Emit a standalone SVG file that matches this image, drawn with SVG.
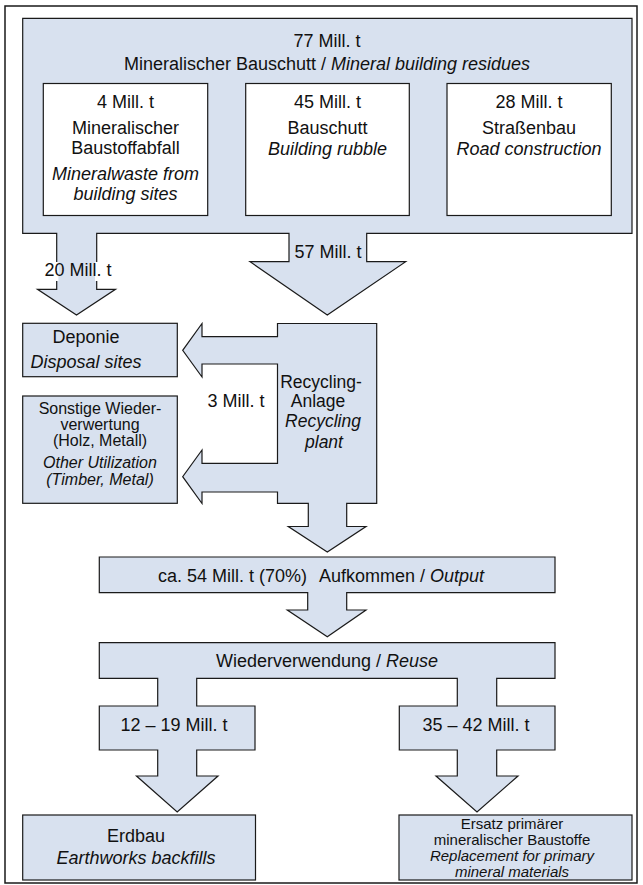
<svg xmlns="http://www.w3.org/2000/svg" width="643" height="885" viewBox="0 0 643 885">
<style>
  .shape { fill: #d8e1ef; stroke: #1a1a1a; stroke-width: 1.2; stroke-linejoin: miter; }
  .white { fill: #ffffff; stroke: #1a1a1a; stroke-width: 1.2; }
  text { font-family: "Liberation Sans", Arial, sans-serif; font-size: 18px; fill: #111; text-anchor: middle; }
  .md { font-size: 17.5px; }
  .sm { font-size: 16px; }
  .xs { font-size: 15px; }
  .it { font-style: italic; }
</style>
<rect id="frame" x="5" y="6" width="632" height="877" fill="#ffffff" stroke="#1a1a1a" stroke-width="1.5"/>

<g id="n-total">
  <path class="shape" d="M22.7,18.3 H632 V233.3 H366.7 V261.7 H405.7 L327.3,315 L250,261.7 H289 V233.3 H96.7 V289.3 H115.5 L76.5,315 L37.5,289.3 H56.7 V233.3 H22.7 Z"/>
  <text x="327" y="47">77 Mill. t</text>
  <text x="327" y="70">Mineralischer Bauschutt / <tspan class="it">Mineral building residues</tspan></text>
</g>
<g id="n-mineralwaste">
  <rect class="white" x="43.3" y="83.5" width="164.4" height="132"/>
  <text x="125.5" y="108">4 Mill. t</text>
  <text x="125.5" y="134">Mineralischer</text>
  <text x="125.5" y="154">Baustoffabfall</text>
  <text class="it" x="125.5" y="180">Mineralwaste from</text>
  <text class="it" x="125.5" y="200">building sites</text>
</g>
<g id="n-rubble">
  <rect class="white" x="245.7" y="83.5" width="163.6" height="132"/>
  <text x="327.5" y="108">45 Mill. t</text>
  <text x="327.5" y="134">Bauschutt</text>
  <text class="it" x="327.5" y="155">Building rubble</text>
</g>
<g id="n-road">
  <rect class="white" x="447" y="83.5" width="164.3" height="132"/>
  <text x="529" y="108">28 Mill. t</text>
  <text x="529" y="134">Straßenbau</text>
  <text class="it" x="529" y="155">Road construction</text>
</g>

<g id="n-deponie">
  <rect class="shape" x="22.7" y="323.3" width="154.6" height="53.4"/>
  <text x="86" y="343">Deponie</text>
  <text class="it" x="86" y="368">Disposal sites</text>
</g>
<g id="n-sonstige">
  <rect class="shape" x="22.7" y="396" width="154.6" height="107.3"/>
  <text class="sm" x="100" y="414">Sonstige Wieder-</text>
  <text class="sm" x="100" y="430">verwertung</text>
  <text class="sm" x="100" y="446">(Holz, Metall)</text>
  <text class="sm it" x="100" y="468">Other Utilization</text>
  <text class="sm it" x="100" y="485">(Timber, Metal)</text>
</g>

<g id="n-recycling">
  <path class="shape" d="M277.5,323.5 H376.7 V503.3 H346.7 V526.5 H366 L327.3,552 L288.3,526.5 H308.3 V503.3 H277.5 V492 H202 V503.5 L182.7,476.7 L202,450 V463.3 H277.5 V364 H202 V377 L182.7,350.3 L202,323.5 V336.7 H277.5 Z"/>
  <text class="md" x="321" y="388">Recycling-</text>
  <text class="md" x="318" y="407">Anlage</text>
  <text class="md it" x="323" y="427">Recycling</text>
  <text class="md it" x="324" y="448">plant</text>
</g>

<g id="n-output">
  <path class="shape" d="M99.3,557 H555 V592.7 H346.7 V610 H366 L327.3,636.7 L287.3,610 H307.7 V592.7 H99.3 Z"/>
  <text x="321" y="582">ca. 54 Mill. t (70%)<tspan dx="12">Aufkommen / </tspan><tspan class="it">Output</tspan></text>
</g>

<g id="n-reuse">
  <path class="shape" d="M99.3,642.7 H555 V678.3 H496.7 V706 H555 V750 H496.7 V776 H518 L477,812 L436,776 H457.3 V750 H399.3 V706 H457.3 V678.3 H196.7 V706 H255 V750 H196.7 V776 H218 L177.2,812 L136.5,776 H157.7 V750 H99.3 V706 H157.7 V678.3 H99.3 Z"/>
  <text x="327" y="667">Wiederverwendung / <tspan class="it">Reuse</tspan></text>
</g>

<g id="n-erdbau">
  <rect class="shape" x="22.7" y="815" width="232.8" height="65"/>
  <text x="136" y="842">Erdbau</text>
  <text class="it" x="136" y="864">Earthworks backfills</text>
</g>
<g id="n-ersatz">
  <rect class="shape" x="399" y="815" width="233" height="65"/>
  <text class="xs" x="512" y="829">Ersatz primärer</text>
  <text class="xs" x="512" y="845">mineralischer Baustoffe</text>
  <text class="xs it" x="512" y="861">Replacement for primary</text>
  <text class="xs it" x="512" y="877">mineral materials</text>
</g>

<g id="connectors">
  <rect x="55" y="262" width="3.4" height="19" fill="#ffffff"/>
  <rect x="95" y="262" width="3.4" height="19" fill="#ffffff"/>
  <text x="78" y="276">20 Mill. t</text>
  <text x="328" y="258">57 Mill. t</text>
  <text x="236" y="407">3 Mill. t</text>
  <text x="174" y="731">12 – 19 Mill. t</text>
  <text x="476" y="731">35 – 42 Mill. t</text>
</g>
</svg>
